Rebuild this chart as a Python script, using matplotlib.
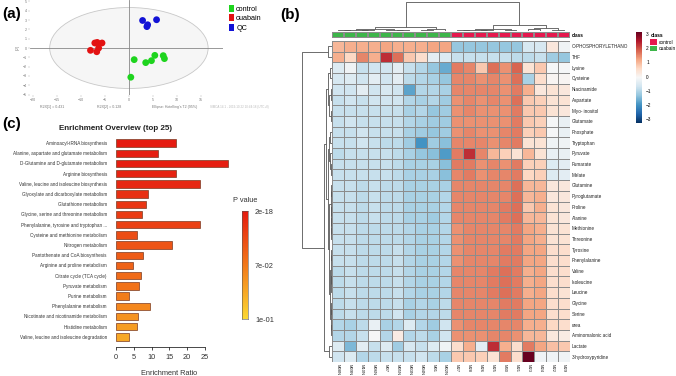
import numpy as np
import matplotlib
matplotlib.use('Agg')
import matplotlib.pyplot as plt
from matplotlib.patches import Ellipse, Patch
from matplotlib.colors import LinearSegmentedColormap, ListedColormap, Normalize

plt.rcParams['font.family'] = ['Liberation Sans', 'DejaVu Sans']

# ---------------- data: (a) PCA scores ----------------
control_t1 = [1.1, 3.5, 4.7, 5.4, 7.15, 7.4, 0.4]
control_t2 = [-1.25, -1.57, -1.36, -0.79, -0.82, -1.14, -3.14]
ouabain_t1 = [-6.6, -5.6, -6.3, -8.0, -6.7, -7.1]
ouabain_t2 = [0.6, 0.54, 0.0, -0.25, -0.4, 0.54]
qc_t1 = [2.85, 5.76, 3.9, 3.75]
qc_t2 = [2.96, 3.04, 2.5, 2.3]
pca_groups = ['control', 'ouabain', 'QC']
ellipse_axes = (16.5, 4.35)
pca_xticks = [-20, -15, -10, -5, 0, 5, 10, 15]
pca_yticks = [-5, -4, -3, -2, -1, 0, 1, 2, 3, 4, 5]
pca_notes = ['R2X[1] = 0.431', 'R2X[2] = 0.128', "Ellipse: Hotelling's T2 (95%)",
             'SIMCA 14.1 - 2019-10-22 10:44:18 (UTC+8)']

# ---------------- data: (c) enrichment ----------------
pathways = [
    'Aminoacyl-tRNA biosynthesis',
    'Alanine, aspartate and glutamate metabolism',
    'D-Glutamine and D-glutamate metabolism',
    'Arginine biosynthesis',
    'Valine, leucine and isoleucine biosynthesis',
    'Glyoxylate and dicarboxylate metabolism',
    'Glutathione metabolism',
    'Glycine, serine and threonine metabolism',
    'Phenylalanine, tyrosine and tryptophan ...',
    'Cysteine and methionine metabolism',
    'Nitrogen metabolism',
    'Pantothenate and CoA biosynthesis',
    'Arginine and proline metabolism',
    'Citrate cycle (TCA cycle)',
    'Pyruvate metabolism',
    'Purine metabolism',
    'Phenylalanine metabolism',
    'Nicotinate and nicotinamide metabolism',
    'Histidine metabolism',
    'Valine, leucine and isoleucine degradation',
]
enrich_ratio = [16.8, 11.9, 31.6, 16.8, 23.6, 8.9, 8.55, 7.25, 23.6, 5.8,
                15.8, 7.5, 4.9, 7.15, 6.5, 3.6, 9.5, 6.3, 5.9, 3.6]
p_values = [0.001, 0.003, 0.002, 0.005, 0.007, 0.012, 0.015, 0.018, 0.021, 0.027,
            0.031, 0.035, 0.039, 0.043, 0.047, 0.052, 0.058, 0.064, 0.069, 0.075]
pval_labels = ['2e-18', '7e-02', '1e-01']
ratio_ticks = [0, 5, 10, 15, 20, 25]

# ---------------- data: (b) heatmap ----------------
metabolites = ['O-PHOSPHORYLETHANO', 'THF', 'Lysine', 'Cysteine', 'Niacinamide', 'Aspartate',
               'Myo- inositol', 'Glutamate', 'Phosphate', 'Tryptophan', 'Pyruvate', 'Fumarate',
               'Malate', 'Glutamine', 'Pyroglutamate', 'Proline', 'Alanine', 'Methionine',
               'Threonine', 'Tyrosine', 'Phenylalanine', 'Valine', 'Isoleucine', 'Leucine',
               'Glycine', 'Serine', 'urea', 'Aminomalonic acid', 'Lactate', '3-hydroxypyridine']
samples = ['M08N', 'M09N', 'M10N', 'M06N', 'M07', 'M05N', 'M03N', 'M04N', 'M01', 'M02N',
           'M27', 'M28', 'M26', 'M25', 'M30', 'M21', 'M23', 'M24', 'M22', 'M29']
sample_class = ['ouabain'] * 10 + ['control'] * 10
class_names = ['control', 'ouabain']
heat_values = [
    [1.0, 1.1, 1.1, 1.1, 1.2, 1.1, 1.1, 1.1, 1.2, 1.2, -1.3, -1.3, -1.3, -1.3, -1.3, -1.3, -0.6, -0.6, 0.3, -0.2],
    [1.1, 0.6, 1.5, 1.1, 2.3, 1.7, 0.8, 0.5, -0.4, -0.5, -0.8, -0.8, -0.8, -0.8, -0.8, -0.9, -0.9, -0.8, -1.2, -1.3],
    [-0.5, -0.2, -0.8, -0.7, -0.7, -0.4, -0.8, -1.0, -1.3, -1.7, 1.6, 1.5, 0.8, 1.7, 1.4, 1.8, 0.4, 0.8, -0.1, -0.1],
    [-0.6, -0.5, -0.7, -0.4, -0.7, -0.4, -0.9, -1.0, -1.1, -1.3, 1.5, 1.5, 1.4, 1.5, 1.4, 1.7, -1.1, 0.5, 0.0, 0.0],
    [-0.7, -0.7, -0.4, -0.7, -0.6, -0.7, -1.8, -1.0, -1.0, -1.1, 1.5, 1.5, 1.5, 1.5, 1.4, 1.6, 1.1, 0.3, 0.4, 0.3],
    [-0.8, -0.7, -0.8, -0.7, -0.7, -0.7, -1.0, -1.1, -1.0, -1.2, 1.4, 1.5, 1.4, 1.5, 1.4, 1.7, 0.8, 0.7, 0.4, 0.4],
    [-0.8, -0.8, -0.8, -0.8, -0.8, -0.8, -1.1, -1.0, -1.3, -1.2, 1.4, 1.5, 1.4, 1.4, 1.4, 1.6, 0.8, 0.8, 0.4, 0.3],
    [-0.8, -0.7, -0.8, -0.8, -0.8, -0.8, -1.0, -1.1, -1.2, -1.2, 1.4, 1.4, 1.4, 1.4, 1.4, 1.6, 0.8, 0.7, -0.1, -0.3],
    [-0.8, -0.8, -0.7, -0.8, -0.8, -0.8, -1.1, -1.2, -1.3, -1.2, 1.4, 1.5, 1.4, 1.4, 1.5, 1.6, 0.7, 0.8, -0.1, -0.3],
    [-0.8, -0.8, -0.7, -0.8, -0.9, -0.9, -1.2, -2.0, -1.2, -1.4, 1.5, 1.5, 1.5, 1.4, 1.5, 1.6, 0.4, 0.4, -0.2, -0.2],
    [-0.9, -0.8, -0.8, -0.8, -0.8, -0.9, -1.1, -1.3, -1.4, -1.9, 1.6, 2.3, 1.5, 1.0, 0.7, 0.4, 1.0, 0.4, -0.3, -0.3],
    [-0.8, -0.8, -0.8, -0.8, -0.8, -0.9, -1.1, -1.1, -1.1, -1.4, 1.6, 1.6, 1.4, 1.5, 1.4, 1.6, 0.7, 0.7, -0.5, -0.4],
    [-0.8, -0.8, -0.8, -0.8, -0.8, -0.9, -1.1, -1.1, -1.1, -1.4, 1.5, 1.6, 1.4, 1.5, 1.5, 1.6, 0.6, 0.7, -0.5, -0.4],
    [-0.8, -0.8, -0.9, -0.8, -0.9, -0.9, -1.1, -1.1, -1.1, -1.1, 1.5, 1.5, 1.5, 1.5, 1.5, 1.7, 1.0, 1.0, 0.3, 0.3],
    [-0.8, -0.8, -0.9, -0.8, -0.9, -0.9, -1.1, -1.1, -1.1, -1.0, 1.5, 1.5, 1.5, 1.5, 1.5, 1.7, 1.0, 1.1, 0.3, 0.3],
    [-0.8, -0.8, -0.9, -0.8, -0.9, -0.9, -1.1, -1.1, -1.1, -1.0, 1.5, 1.5, 1.5, 1.5, 1.6, 1.7, 0.8, 1.1, 0.4, 0.3],
    [-0.8, -0.8, -0.9, -0.8, -0.9, -0.9, -1.1, -1.1, -1.2, -1.0, 1.5, 1.5, 1.5, 1.5, 1.6, 1.7, 1.0, 1.0, 0.4, 0.3],
    [-0.8, -0.8, -0.9, -0.9, -0.9, -0.9, -1.0, -1.1, -1.1, -1.0, 1.4, 1.5, 1.5, 1.5, 1.5, 1.6, 1.2, 1.1, 0.4, 0.4],
    [-0.8, -0.8, -0.9, -0.9, -0.9, -0.9, -1.0, -1.1, -1.1, -1.0, 1.4, 1.5, 1.5, 1.5, 1.5, 1.6, 1.2, 1.1, 0.4, 0.4],
    [-0.8, -0.8, -0.9, -0.9, -0.9, -0.8, -1.0, -1.1, -1.1, -1.0, 1.4, 1.5, 1.5, 1.5, 1.6, 1.6, 1.2, 1.2, 0.5, 0.5],
    [-0.8, -0.8, -0.9, -0.9, -0.9, -0.8, -1.0, -1.1, -1.1, -1.0, 1.4, 1.5, 1.5, 1.5, 1.6, 1.6, 1.2, 1.2, 0.5, 0.5],
    [-0.9, -0.8, -0.9, -0.9, -0.9, -0.8, -1.0, -1.1, -1.1, -1.0, 1.5, 1.5, 1.5, 1.6, 1.7, 1.6, 1.1, 1.2, 0.5, 0.5],
    [-0.9, -0.8, -0.9, -0.9, -0.9, -0.8, -1.0, -1.1, -1.1, -1.0, 1.5, 1.5, 1.5, 1.6, 1.7, 1.6, 1.1, 1.2, 0.5, 0.5],
    [-0.9, -0.8, -0.9, -0.9, -0.9, -0.8, -1.0, -1.1, -1.1, -1.0, 1.5, 1.5, 1.5, 1.6, 1.7, 1.6, 1.1, 1.2, 0.5, 0.4],
    [-0.9, -0.8, -0.9, -0.9, -0.9, -0.8, -1.1, -1.0, -1.1, -0.9, 1.5, 1.5, 1.5, 1.5, 1.6, 1.6, 1.2, 1.2, 0.5, 0.5],
    [-0.9, -0.8, -0.9, -0.9, -0.9, -0.7, -1.1, -1.0, -1.0, -0.9, 1.5, 1.5, 1.5, 1.5, 1.6, 1.6, 1.2, 1.2, 0.5, 0.5],
    [-1.0, -1.1, -0.9, -0.3, -1.1, -1.0, -0.5, -1.0, -1.2, -0.7, 1.4, 1.5, 1.5, 1.5, 1.5, 1.5, 1.1, 1.1, 0.6, 0.5],
    [-1.0, -1.0, -0.8, -0.1, -1.0, 0.2, -1.0, -0.9, -1.1, -0.7, 1.4, 1.4, 1.4, 1.5, 1.5, 1.4, 1.0, 1.0, 0.3, 0.2],
    [-0.5, -1.5, -0.4, -0.8, -0.5, -1.2, -0.6, -0.8, -0.5, -0.2, 0.5, 1.1, -0.4, 2.3, 1.1, 0.5, 1.6, 1.2, 0.9, 0.8],
    [-0.7, -0.5, -1.0, -0.9, -0.8, -0.8, -0.8, -0.7, -0.9, -1.1, 0.8, 0.8, 0.7, 0.4, 1.6, 0.5, 3.3, -0.2, -0.2, -0.2],
]
heat_ticks = [3, 2, 1, 0, -1, -2, -3]
# dendrograms: [merge height, left, right]; leaves are indices
row_tree = [1.0, [0.12, 0, 1],
            [0.28,
             [0.2,
              [0.14, [0.08, 2, 3], [0.1, [0.05, 4, 5], [0.04, 6, 7]]],
              [0.15,
               [0.1, [0.06, 8, 9], [0.07, 10, [0.03, 11, 12]]],
               [0.1,
                [0.05, [0.03, 13, 14], [0.03, 15, [0.02, 16, [0.02, 17, 18]]]],
                [0.06, [0.03, [0.02, 19, 20], [0.02, [0.01, 21, 22], 23]],
                 [0.04, [0.03, 24, 25], [0.035, 26, 27]]]]]],
             [0.09, 28, 29]]]
col_tree = [1.0,
            [0.13, [0.07, [0.04, [0.02, 0, 1], [0.03, 2, 3]], [0.05, 4, [0.02, 5, 6]]],
             [0.08, [0.04, 7, 8], 9]],
            [0.2, [0.08, [0.05, [0.02, 10, 11], [0.03, 12, 13]], [0.04, 14, 15]],
             [0.12, [0.06, 16, 17], [0.05, 18, 19]]]]

# ---------------- figure ----------------
W, H = 676, 376
fig = plt.figure(figsize=(W / 100, H / 100), dpi=100, facecolor='white')


def px_axes(x0, y0, x1, y1):
    return fig.add_axes([x0 / W, 1 - y1 / H, (x1 - x0) / W, (y1 - y0) / H])


def fx(x):
    return x / W


def fy(y):
    return 1 - y / H


# ===== (a) PCA =====
pca_colors = {'control': '#1ed41e', 'ouabain': '#e31212', 'QC': '#1212d6'}
ax = px_axes(30, 0, 223, 95)
ax.set_xlim(-20.6, 19.6)
ax.set_ylim(-5.05, 5.16)
ax.add_patch(Ellipse((0, 0), 2 * ellipse_axes[0], 2 * ellipse_axes[1],
                     facecolor='#f6f6f6', edgecolor='#c8c8c8', lw=0.6, zorder=0))
ax.axhline(0, color='#888888', lw=0.6, zorder=1)
ax.axvline(0, color='#888888', lw=0.6, zorder=1)
for g, xs, ys in zip(pca_groups, [control_t1, ouabain_t1, qc_t1], [control_t2, ouabain_t2, qc_t2]):
    ax.scatter(xs, ys, s=24, color=pca_colors[g], edgecolors='none', zorder=3)
ax.set_xticks(pca_xticks)
ax.set_yticks(pca_yticks)
ax.tick_params(labelsize=2.6, labelcolor='#777777', length=1.2, width=0.3, color='#aaaaaa', pad=1)
for s in ax.spines.values():
    s.set_visible(False)
ax.set_ylabel('t[2]', fontsize=2.6, color='#777777', labelpad=2)
handles = [Patch(facecolor=pca_colors[g], edgecolor='none') for g in pca_groups]
ax.legend(handles, pca_groups, loc='upper left', bbox_to_anchor=(fx(225), fy(1)),
          bbox_transform=fig.transFigure, frameon=False, fontsize=5.2,
          handlelength=0.75, handleheight=1.1, handletextpad=0.3, labelspacing=0.22, borderpad=0)
for xp, txt in zip([40, 97, 152, 210], pca_notes):
    fig.text(fx(xp), fy(107), txt, fontsize=2.6 if xp < 200 else 2.2,
             color='#777777' if xp < 200 else '#bbbbbb', va='center')
fig.text(fx(2), fy(14), '(a)', fontsize=11, fontweight='bold', va='center')

# ===== (c) Enrichment =====
heat_cmap = LinearSegmentedColormap.from_list('pv', ['#e51a10', '#f2781a', '#fcd832'])
pnorm = Normalize(0, 0.1)
axc = px_axes(116, 138, 222, 342)
ypos = np.arange(len(pathways))
axc.barh(ypos, enrich_ratio, height=0.72, color=heat_cmap(pnorm(p_values)),
         edgecolor='#7a3a22', linewidth=0.5, clip_on=False)
axc.set_ylim(len(pathways) - 0.5, -0.5)
axc.set_xlim(0, 29.8)
axc.set_yticks(ypos, pathways)
axc.tick_params(axis='y', length=0, labelsize=3.3, labelcolor='#333333', pad=6.5)
axc.set_xticks(ratio_ticks)
axc.tick_params(axis='x', length=2.2, width=0.5, labelsize=5.3, labelcolor='#333333', pad=2.5)
for s in ['top', 'right', 'left']:
    axc.spines[s].set_visible(False)
axc.spines['bottom'].set_position(('outward', 3.6))
axc.spines['bottom'].set_bounds(0, 25)
axc.spines['bottom'].set_linewidth(0.5)
axc.set_xlabel('Enrichment Ratio', fontsize=5.3, color='#333333', labelpad=7)
fig.text(fx(116), fy(128), 'Enrichment Overview (top 25)', fontsize=5.8, fontweight='bold',
         ha='center', va='center', color='#222222')
fig.text(fx(2), fy(124), '(c)', fontsize=11, fontweight='bold', va='center')
# p-value colorbar
cax = px_axes(242, 211, 248, 319)
grad = np.linspace(0, 0.1, 200).reshape(-1, 1)
cax.imshow(grad, aspect='auto', cmap=heat_cmap, norm=pnorm, extent=[0, 1, 0.1, 0], origin='upper')
cax.set_xticks([])
cax.yaxis.tick_right()
cax.set_ylim(0.1, 0)
cax.set_yticks([0, 0.05, 0.1], pval_labels)
cax.tick_params(axis='y', length=0, labelsize=5.3, labelcolor='#333333', pad=5)
for s in cax.spines.values():
    s.set_linewidth(0.4)
    s.set_color('#555555')
fig.text(fx(245), fy(201), 'P value', fontsize=5.3, ha='center', va='center', color='#333333')

# ===== (b) Heatmap =====
cls_colors = {'control': '#e5184e', 'ouabain': '#3db54a'}
hm = px_axes(332, 41, 570, 362)
vals = np.array(heat_values)
mesh = hm.pcolormesh(vals, cmap='RdBu_r', vmin=-3.28, vmax=3.14, edgecolors='#8c8c8c', linewidth=0.4)
hm.set_xlim(0, vals.shape[1])
hm.set_ylim(vals.shape[0], 0)
hm.yaxis.tick_right()
hm.set_yticks(np.arange(vals.shape[0]) + 0.5, metabolites)
hm.set_xticks(np.arange(vals.shape[1]) + 0.5, samples, rotation=270)
hm.tick_params(axis='y', length=0, labelsize=3.3, pad=1.5, labelcolor='#222222')
hm.tick_params(axis='x', length=0, labelsize=3.0, pad=1.5, labelcolor='#222222')
for s in hm.spines.values():
    s.set_visible(False)

# annotation bar
an = px_axes(332, 32, 570, 38)
cls_idx = np.array([[class_names.index(c) for c in sample_class]])
an.pcolormesh(cls_idx, cmap=ListedColormap([cls_colors[c] for c in class_names]),
              vmin=-0.5, vmax=1.5, edgecolors='#8c8c8c', linewidth=0.3)
an.set_xlim(0, len(sample_class))
an.set_ylim(0, 1)
an.set_xticks([])
an.yaxis.tick_right()
an.set_yticks([0.5], ['class'])
an.tick_params(axis='y', length=0, labelsize=3.4, pad=1.5)
for lab in an.get_yticklabels():
    lab.set_fontweight('bold')
for s in an.spines.values():
    s.set_visible(False)


def draw_tree(axd, node, orient):
    if isinstance(node, int):
        return node + 0.5, 0.0
    h, a, b = node
    pa, ha = draw_tree(axd, a, orient)
    pb, hb = draw_tree(axd, b, orient)
    if orient == 'top':
        axd.plot([pa, pa, pb, pb], [ha, h, h, hb], color='#555555', lw=0.6, solid_capstyle='butt')
    else:
        axd.plot([ha, h, h, hb], [pa, pa, pb, pb], color='#555555', lw=0.6, solid_capstyle='butt')
    return (pa + pb) / 2, h


cd = px_axes(332, 0, 570, 31)
draw_tree(cd, col_tree, 'top')
cd.set_xlim(0, vals.shape[1])
cd.set_ylim(0, 1.07)
cd.axis('off')

rd = px_axes(300, 41, 332, 362)
draw_tree(rd, row_tree, 'left')
rd.set_ylim(vals.shape[0], 0)
rd.set_xlim(1.07, 0)
rd.axis('off')

# heatmap colour bar
hcax = px_axes(636, 32, 642, 123)
cb = fig.colorbar(mesh, cax=hcax)
cb.set_ticks(heat_ticks)
cb.outline.set_visible(False)
hcax.tick_params(length=0, labelsize=3.4, pad=3)

leg_handles = [Patch(facecolor=cls_colors[c], edgecolor='none') for c in class_names]
lg = fig.legend(leg_handles, class_names, title='class', loc='upper left',
                bbox_to_anchor=(fx(648), fy(31)), frameon=False, fontsize=3.4, title_fontsize=3.6,
                handlelength=1.4, handleheight=1.5, handletextpad=0.3, labelspacing=0.15,
                borderpad=0, alignment='left')
lg.get_title().set_fontweight('bold')

fig.text(fx(280), fy(15), '(b)', fontsize=11, fontweight='bold', va='center')

fig.savefig('out.png', dpi=100, facecolor='white')
